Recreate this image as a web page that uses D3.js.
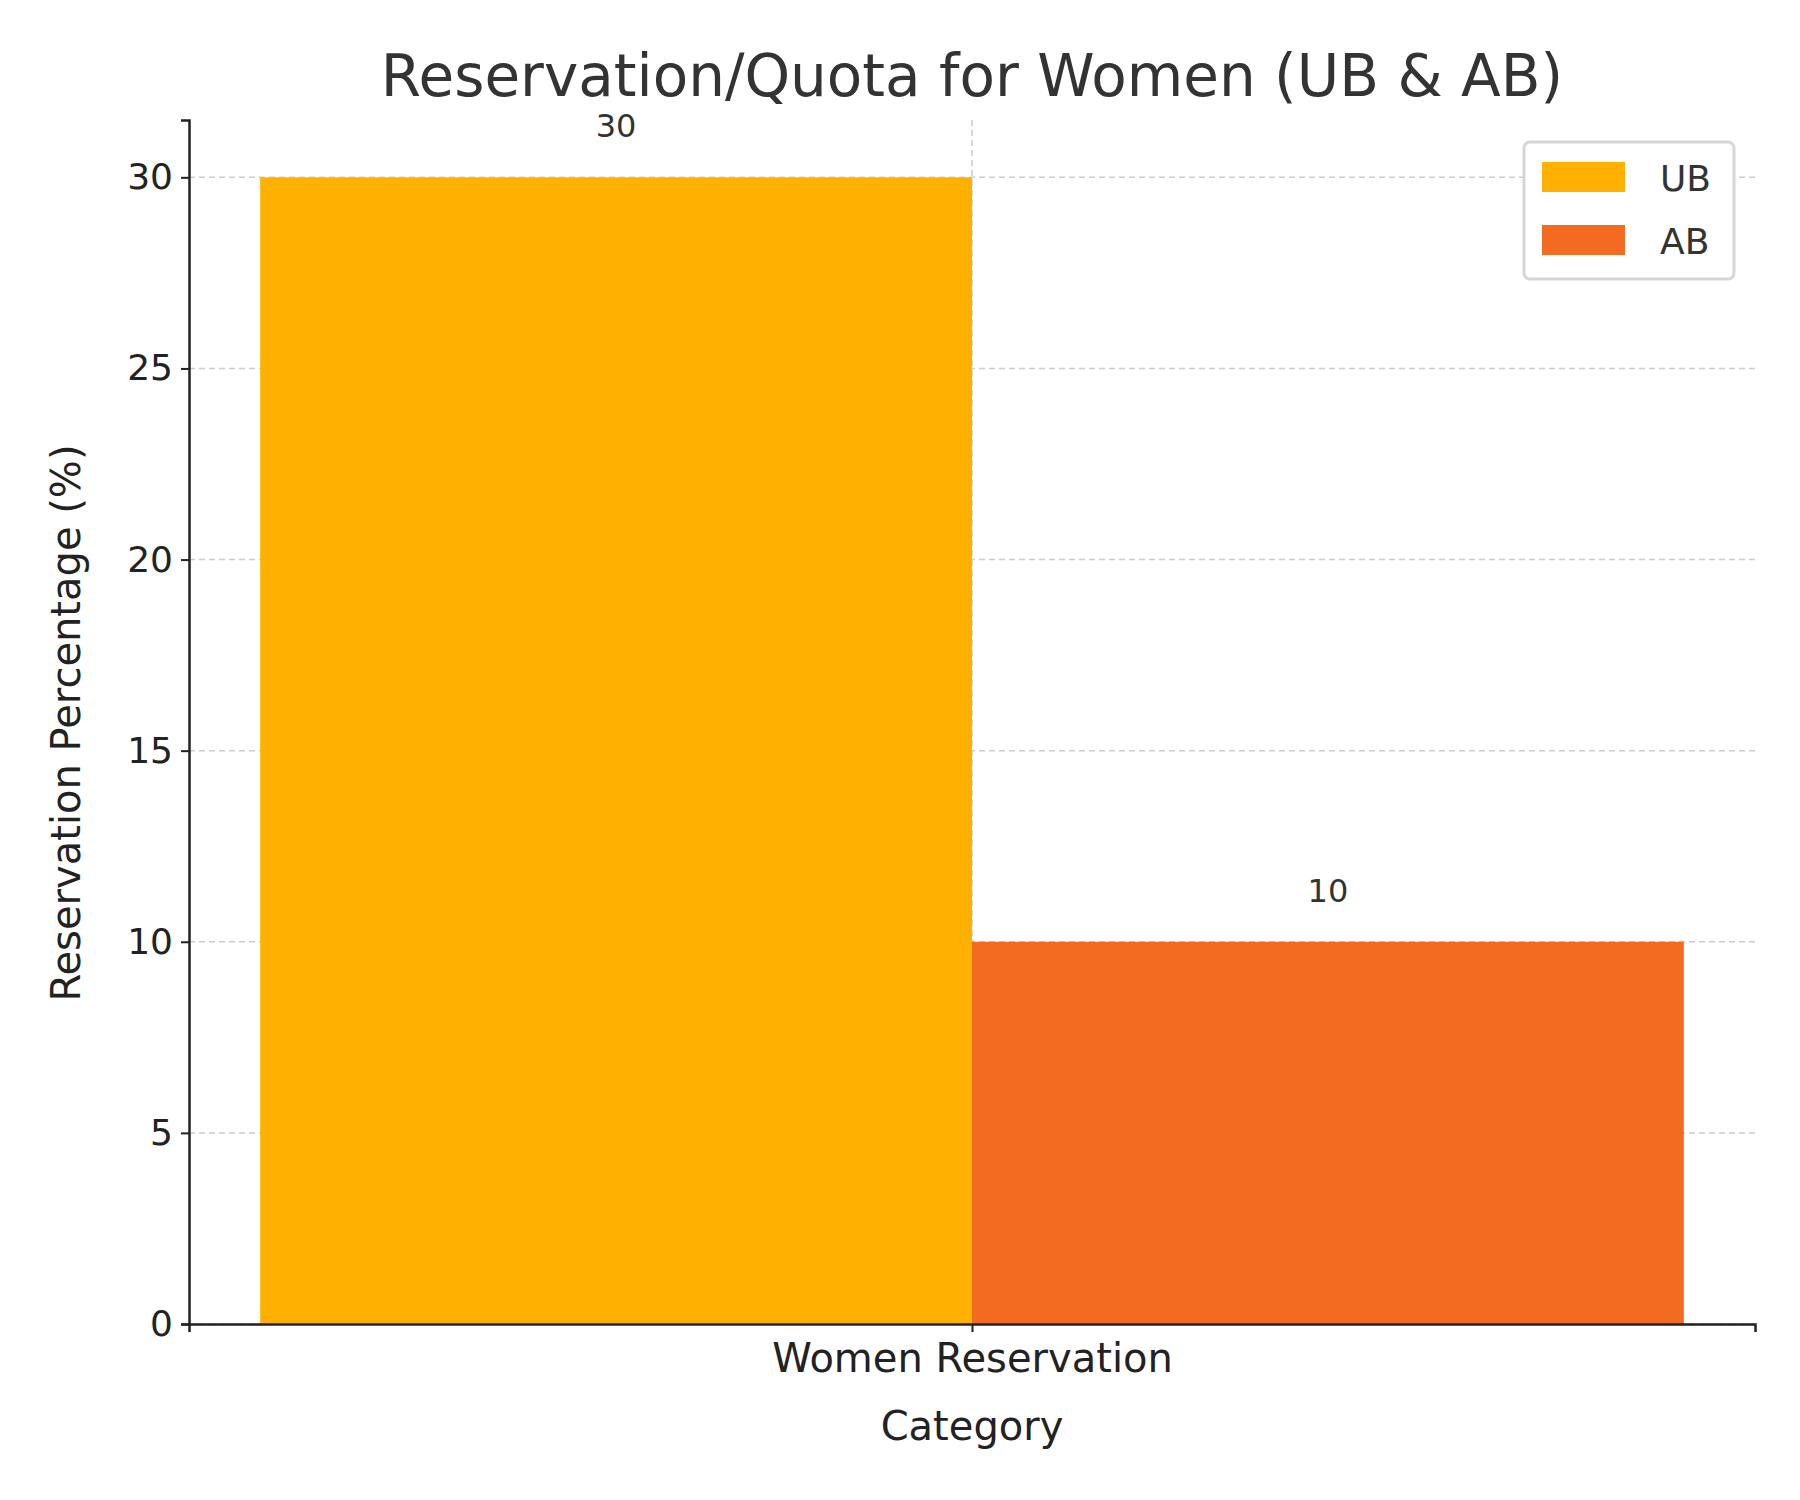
<!DOCTYPE html><html><head><script src="https://cdn.jsdelivr.net/npm/d3@7"></script>
<style>body{margin:0;background:#fff}text{font-family:"DejaVu Sans",sans-serif}</style></head><body>
<svg id="c" width="1800" height="1500"></svg>
<script>
const categories=["Women Reservation"];
const seriesNames=["UB","AB"];
const seriesValues=[30,10];
const seriesColors=["#FFB000","#F26B21"];
const yTicks=[0,5,10,15,20,25,30];
const svg=d3.select("#c");
const L=189,R=1755,T=120,B=1324;
const x=d3.scaleLinear().domain([-0.44,0.44]).range([L,R]);
const y=d3.scaleLinear().domain([0,31.5]).range([B,T]);
const ink="#333";
// grid
svg.append("g").selectAll("line").data(yTicks).join("line").attr("x1",L).attr("x2",R)
 .attr("y1",d=>y(d)).attr("y2",d=>y(d)).attr("stroke","#ccc").attr("stroke-width",1.5).attr("stroke-dasharray","6,4");
svg.append("line").attr("x1",x(0)).attr("x2",x(0)).attr("y1",T).attr("y2",B).attr("stroke","#ccc").attr("stroke-width",1.5).attr("stroke-dasharray","6,4");
// bars
const offs=[-0.2,0.2];
svg.append("g").selectAll("rect").data(seriesValues).join("rect")
 .attr("x",(d,i)=>x(offs[i]-0.2)).attr("width",(d,i)=>x(offs[i]+0.2)-x(offs[i]-0.2))
 .attr("y",d=>y(d)).attr("height",d=>B-y(d)).attr("fill",(d,i)=>seriesColors[i]);
svg.append("g").selectAll("text").data(seriesValues).join("text")
 .attr("x",(d,i)=>x(offs[i])).attr("y",d=>y(d)-40).attr("text-anchor","middle")
 .attr("font-size",32).attr("fill",ink).text(d=>d);
// axes
const ya=svg.append("g").attr("transform",`translate(${L},0)`).call(d3.axisLeft(y).tickValues(yTicks).tickSize(8).tickPadding(8));
ya.select(".domain").attr("stroke","#222").attr("stroke-width",2.5);
ya.selectAll("text").attr("font-size",36).attr("fill","#222");
ya.selectAll(".tick line").attr("stroke","#222").attr("stroke-width",2);
const xa=svg.append("g").attr("transform",`translate(0,${B})`).call(d3.axisBottom(x).tickValues([0]).tickFormat(()=>categories[0]).tickSize(8).tickPadding(12));
xa.select(".domain").attr("stroke","#222").attr("stroke-width",2.5);
xa.selectAll("text").attr("font-size",40).attr("fill","#222");
xa.selectAll(".tick line").attr("stroke","#222").attr("stroke-width",2);
svg.append("text").attr("x",x(0)).attr("y",1440).attr("text-anchor","middle").attr("font-size",40).attr("fill","#222").text("Category");
svg.append("text").attr("transform","translate(80,723) rotate(-90)").attr("text-anchor","middle").attr("font-size",40).attr("fill","#222").text("Reservation Percentage (%)");
svg.append("text").attr("x",x(0)).attr("y",96).attr("text-anchor","middle").attr("font-size",58).attr("fill",ink).text("Reservation/Quota for Women (UB & AB)");
// legend
const lg=svg.append("g");
lg.append("rect").attr("x",1524).attr("y",142).attr("width",210).attr("height",137).attr("rx",6).attr("fill","#fff").attr("stroke","#d6d6d6").attr("stroke-width",3);
seriesNames.forEach((n,i)=>{
 lg.append("rect").attr("x",1542).attr("y",162+i*63).attr("width",83).attr("height",30).attr("fill",seriesColors[i]);
 lg.append("text").attr("x",1660).attr("y",191+i*63).attr("font-size",36).attr("fill",ink).text(n);
});
</script></body></html>
